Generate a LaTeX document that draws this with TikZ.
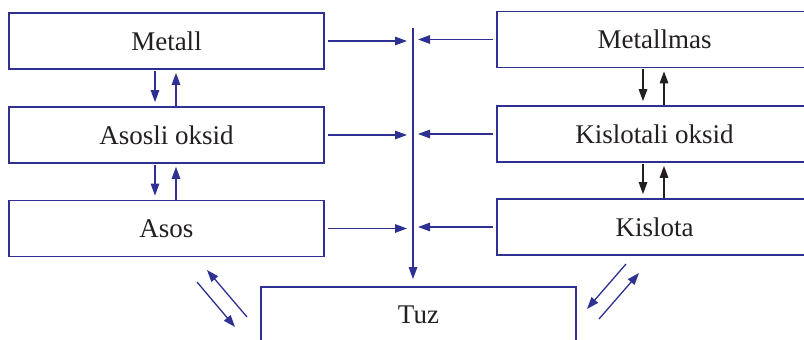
\documentclass[tikz,border=0pt]{standalone}
\usepackage{fontspec}
\setmainfont{Liberation Serif}
\usetikzlibrary{arrows.meta}
\definecolor{chemblue}{RGB}{46,49,146}
\definecolor{inkdark}{RGB}{35,31,32}
\begin{document}
\begin{tikzpicture}[x=1pt,y=-1pt,
  box/.style={draw=chemblue, line width=1.7, minimum width=315, minimum height=56, inner sep=0, text=inkdark, font=\fontsize{27}{32}\selectfont},
  arr/.style={draw=chemblue, line width=1.3, -{Triangle[length=12pt,width=8.5pt]}},
  blk/.style={arr, draw=inkdark}]
  \useasboundingbox (0,0) rectangle (804,340);
  \foreach \n/\x/\y/\t in {metall/166.5/41/Metall, asosli/166.5/135/Asosli oksid, asos/166.5/228.5/Asos,
    metallmas/654.5/39.5/Metallmas, kisoksid/654.5/134/Kislotali oksid, kislota/654.5/227/Kislota, tuz/418.5/315/Tuz} {
    \node[box] (\n) at (\x,\y) {\t};
  }
  % yig'uvchi chiziq
  \coordinate (bus) at (413,28);
  \draw[arr, shorten >=7pt] (bus) -- (bus |- tuz.north);
  \foreach \a in {metall,asosli,asos} {
    \draw[arr, shorten <=3pt, shorten >=6pt] (\a.east) -- (\a.east -| bus);
  }
  \foreach \a in {metallmas,kisoksid,kislota} {
    \draw[arr, shorten <=3pt, shorten >=5pt] (\a.west) -- (\a.west -| bus);
  }
  % o'zaro o'tishlar
  \foreach \a/\b in {metall/asosli,asosli/asos} {
    \draw[arr, shorten <=1pt, shorten >=4pt] ([xshift=-11.5]\a.south) -- ([xshift=-11.5]\b.north);
    \draw[arr, shorten >=3pt] ([xshift=9.5]\b.north) -- ([xshift=9.5]\a.south);
  }
  \foreach \a/\b in {metallmas/kisoksid,kisoksid/kislota} {
    \draw[blk, shorten <=1pt, shorten >=4pt] ([xshift=-11.5]\a.south) -- ([xshift=-11.5]\b.north);
    \draw[blk, shorten >=3pt] ([xshift=9.5]\b.north) -- ([xshift=9.5]\a.south);
  }
  % Tuz bilan
  \coordinate (l1) at (197,282); \coordinate (l2) at (235,327);
  \coordinate (l3) at (247,317); \coordinate (l4) at (207,270);
  \coordinate (r1) at (626,264); \coordinate (r2) at (587,309);
  \coordinate (r3) at (599,319); \coordinate (r4) at (639,273);
  \draw[arr] (l1) -- (l2);
  \draw[arr] (l3) -- (l4);
  \draw[arr] (r1) -- (r2);
  \draw[arr] (r3) -- (r4);
\end{tikzpicture}
\end{document}
